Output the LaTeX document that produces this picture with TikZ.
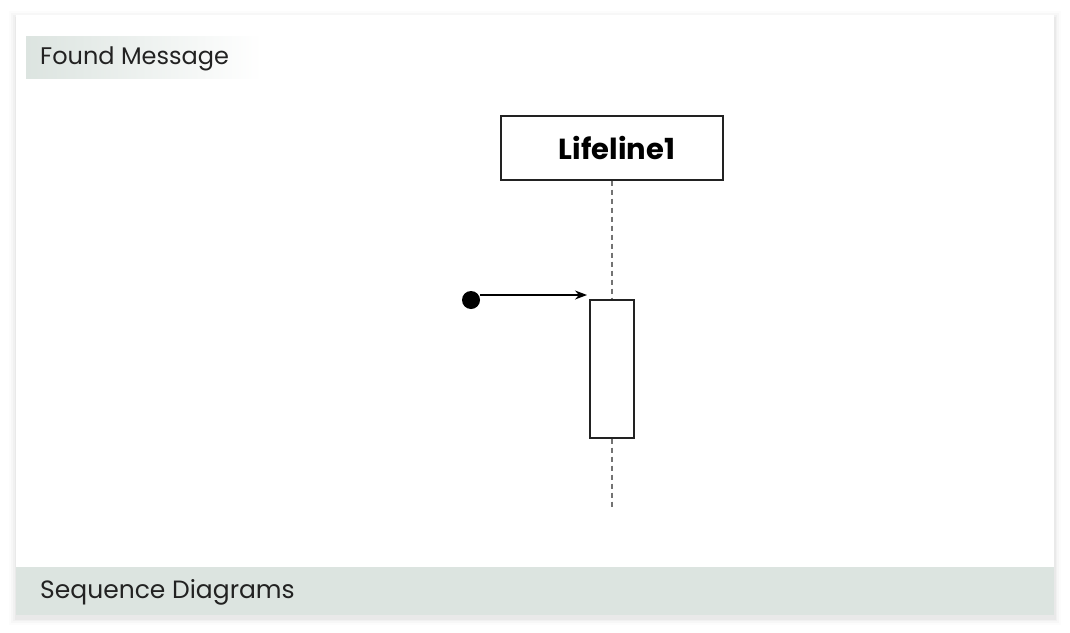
\documentclass[tikz,border=0pt]{standalone}
\usepackage{fontspec}
\setmainfont{Poppins}
\usetikzlibrary{arrows.meta}
\definecolor{band}{HTML}{DCE4E0}
\definecolor{ink}{HTML}{222222}
\begin{document}
\begin{tikzpicture}[x=1pt,y=-1pt,
  lifebox/.style={draw=ink, line width=1.3pt, fill=white},
  lifedash/.style={draw=gray!90!black, dash pattern=on 5pt off 4pt, line width=1.2pt},
  msg/.style={draw=black, line width=1.2pt, -{Stealth[length=12pt,width=9pt]}},
  lbl/.style={anchor=west, inner sep=0pt, text=ink}]
\useasboundingbox (0,0) rectangle (1070,632);
\fill[white] (0,0) rectangle (1070,632);
% soft shadow
\foreach \d/\o in {7/0.012,5/0.018,3/0.025,1.5/0.03}{
  \fill[black,opacity=\o] (16-\d,15-\d+3) rectangle (1054+\d,615+\d+3);
}
\fill[white] (16,15) rectangle (1054,615);
% footer band
\fill[band] (16,567) rectangle (1054,615);
\node[lbl, font=\fontsize{25}{30}\selectfont] (footer) at (40,592) {Sequence Diagrams};
% title band with fade
\shade[left color=band, right color=white] (26,36) rectangle (262,78);
\node[lbl, font=\fontsize{24}{28}\selectfont] (title) at (40,59) {Found Message};
% lifeline
\node[lifebox, minimum width=222pt, minimum height=64pt, inner sep=0pt] (life) at (612,148) {};
\node[inner sep=0pt, font=\fontsize{29}{34}\selectfont\bfseries] (lifetext) at (617,148) {Lifeline1};
\node[lifebox, minimum width=44pt, minimum height=138pt, inner sep=0pt] (act) at (612,369) {};
\coordinate (lend) at (612,510);
\draw[lifedash] (life.south) -- (act.north);
\draw[lifedash] (act.south) -- (lend);
% found message
\coordinate (dot) at (471,300);
\fill[black] (dot) circle (9pt);
\coordinate (tail) at (480,295);
\coordinate (tip) at (587,295);
\draw[msg] (tail) -- (tip);
\end{tikzpicture}
\end{document}
